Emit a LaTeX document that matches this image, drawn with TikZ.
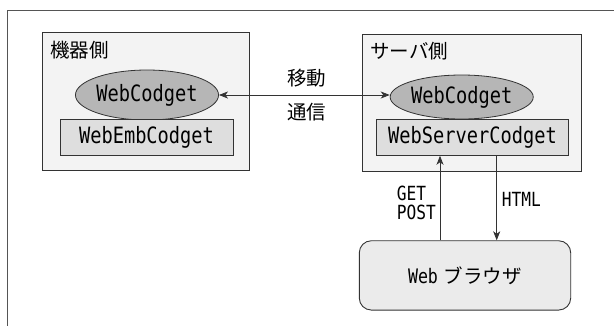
\documentclass[tikz,border=0pt]{standalone}
\usepackage{fontspec}
\newfontfamily\jpfont{Noto Sans CJK JP}
\newfontfamily\codefont[FakeStretch=0.83]{DejaVu Sans Mono}
\usetikzlibrary{shapes.geometric,arrows.meta}
\definecolor{framegray}{HTML}{555555}
\definecolor{edgegray}{HTML}{333333}
\definecolor{sidefill}{HTML}{F3F3F3}
\definecolor{partfill}{HTML}{DEDEDE}
\definecolor{codgetfill}{HTML}{B6B6B6}
\definecolor{browserfill}{HTML}{EBEBEB}
\begin{document}
\begin{tikzpicture}[x=1pt,y=-1pt,
	side/.style={draw=edgegray,fill=sidefill,line width=.9pt,inner sep=0pt},
	codget/.style={ellipse,draw=edgegray,fill=codgetfill,line width=.8pt,inner sep=0pt,
		minimum width=122pt,font=\codefont\fontsize{22.5}{26}\selectfont},
	part/.style={draw=edgegray,fill=partfill,line width=.9pt,inner sep=0pt,
		minimum height=36pt,font=\codefont\fontsize{22.5}{26}\selectfont},
	jplabel/.style={font=\jpfont\fontsize{19.5}{22}\selectfont,inner sep=0pt},
	msg/.style={font=\codefont\fontsize{19.5}{19}\selectfont,inner sep=0pt,align=left},
	arr/.style={-{Stealth[length=9pt,width=7pt,inset=2.5pt]},draw=edgegray,line width=.8pt}]
	\useasboundingbox (0,0) rectangle (614,325);
	% outer frame (only top and left are visible)
	\draw[framegray,line width=.9pt] (7.5,330) |- (620,10);

	% device side
	\node[side,minimum width=207pt,minimum height=138pt] (device) at (145.7,101.7) {};
	\node[jplabel,anchor=west] (devicename) at (50,50) {機器側};
	\node[codget,minimum height=50pt] (wcL) at (147,95) {WebCodget};
	\node[part,minimum width=173pt] (emb) at (146.5,137.3) {WebEmbCodget};

	% server side
	\node[side,minimum width=219pt,minimum height=137.7pt] (server) at (472.2,102.8) {};
	\node[jplabel,anchor=west] (servername) at (370,51.5) {サーバ側};
	\node[codget,minimum height=44pt] (wcR) at (461.7,97) {WebCodget};
	\node[part,minimum width=191.6pt] (srv) at (472.5,137.3) {WebServerCodget};

	% browser
	\node[draw=edgegray,fill=browserfill,line width=.9pt,rounded corners=12pt,
		minimum width=211.4pt,minimum height=69.3pt] (browser) at (465,275.4)
		{\codefont\fontsize{20}{22}\selectfont Web\hspace{6pt}\jpfont\fontsize{19.5}{22}\selectfont ブラウザ};

	% moving / communication
	\draw[arr,{Stealth[length=9pt,width=7pt,inset=2.5pt]}-{Stealth[length=9pt,width=7pt,inset=2.5pt]}]
		(wcL.east) -- (wcL.east -| wcR.west);
	\node[jplabel] (idou) at (306.7,78) {移動};
	\node[jplabel] (tsushin) at (306.7,112) {通信};

	% requests
	\coordinate (req) at (440,0);
	\coordinate (res) at (496.7,0);
	\draw[arr] (browser.north -| req) -- (srv.south -| req);
	\draw[arr] (srv.south -| res) -- (browser.north -| res);
	\node[msg,anchor=west] (getpost) at (396.7,202.5) {GET\\POST};
	\node[msg,anchor=west] (html) at (501.7,199) {HTML};
\end{tikzpicture}
\end{document}
